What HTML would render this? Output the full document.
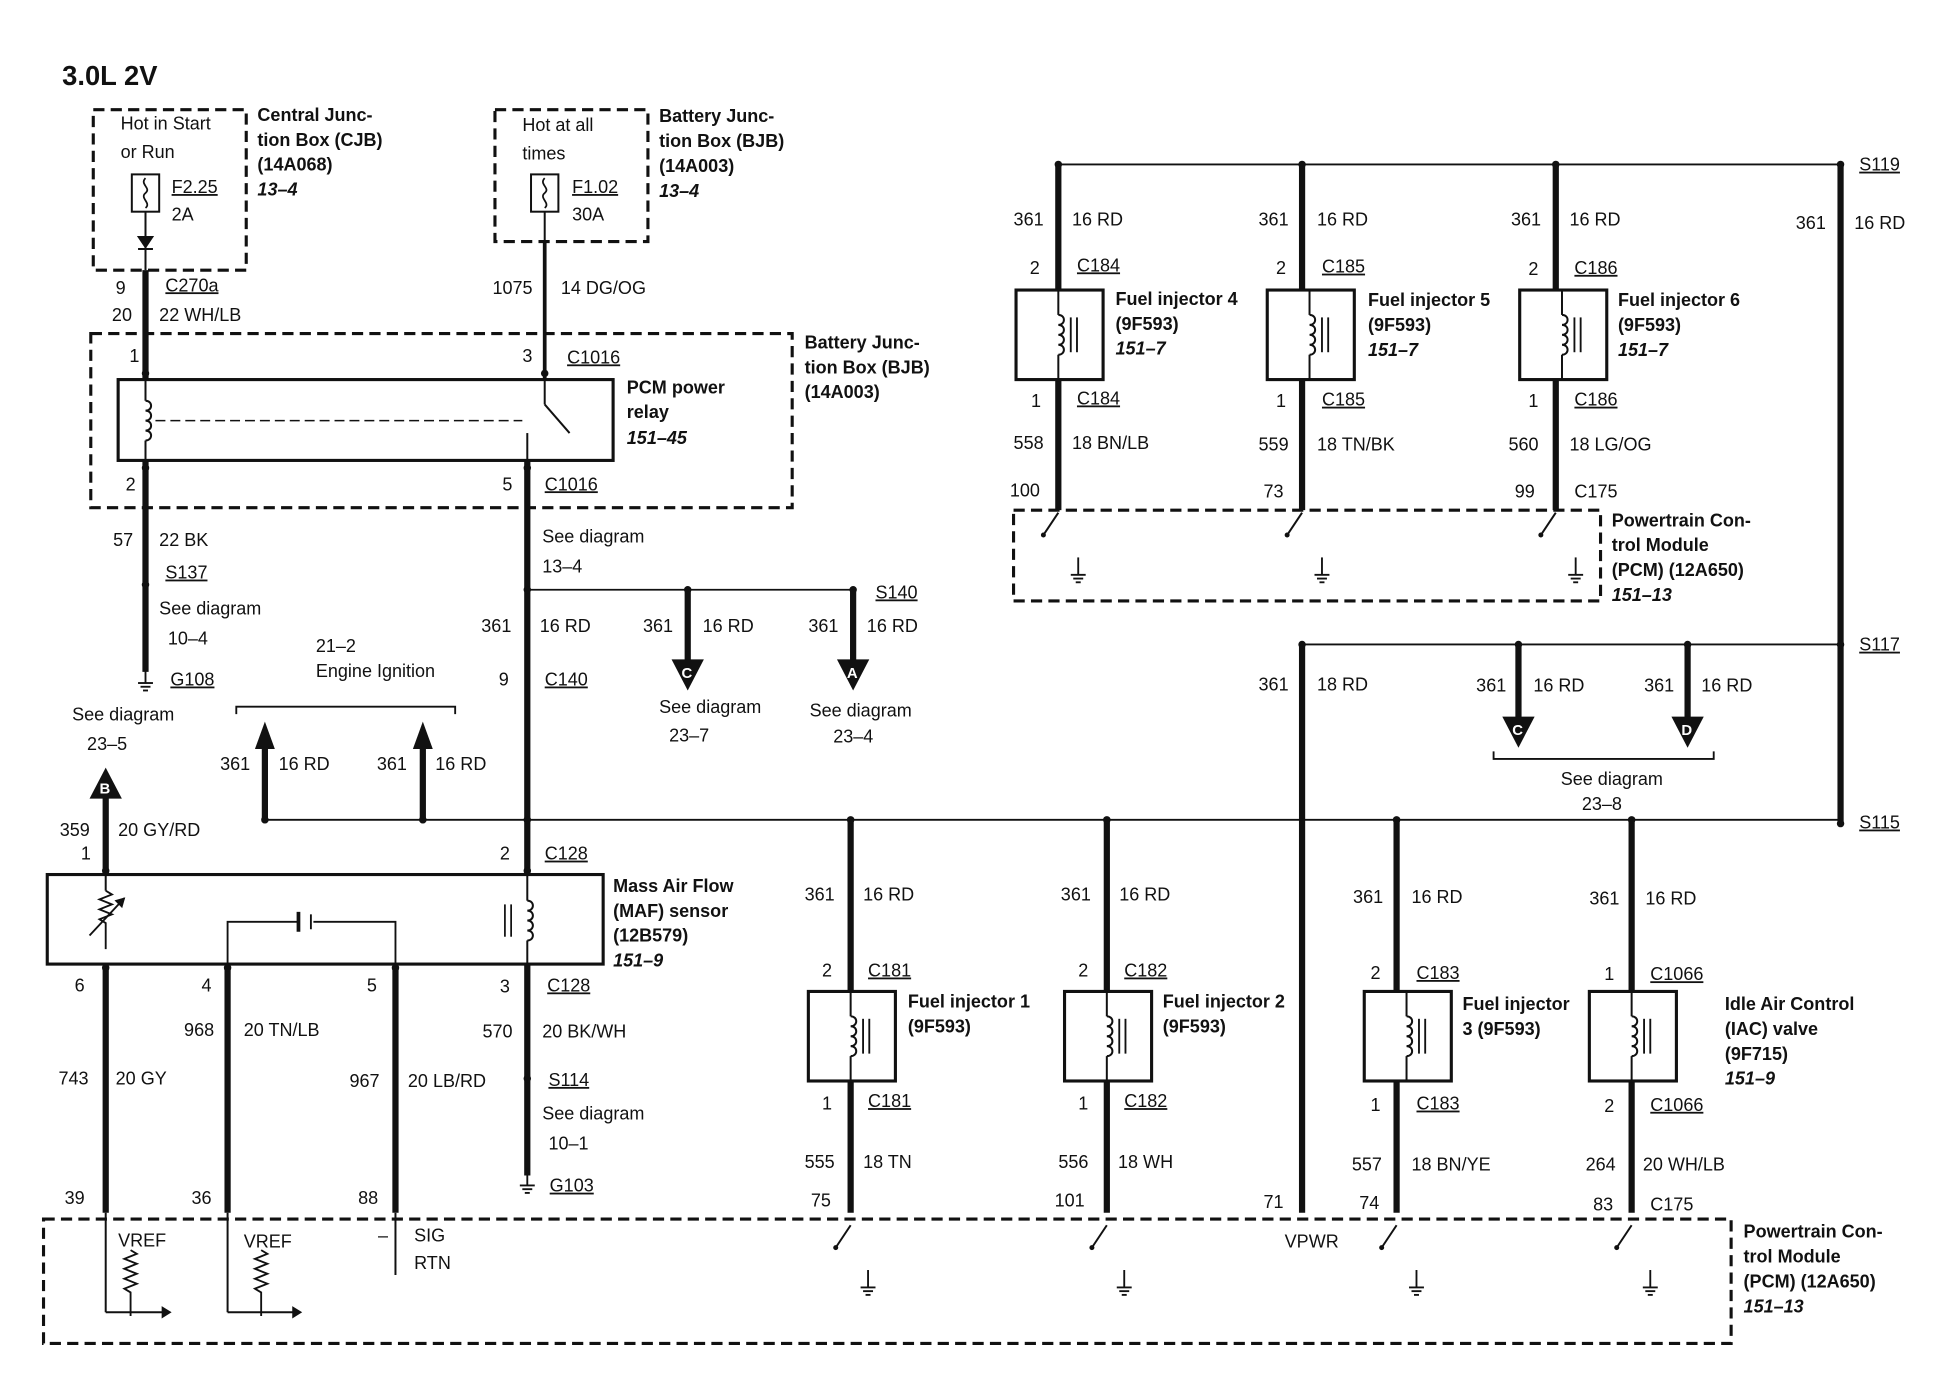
<!DOCTYPE html>
<html><head><meta charset="utf-8"><style>
html,body{margin:0;padding:0;background:#fff;}
svg text{font-family:"Liberation Sans",Arial,sans-serif;font-size:14.5px;fill:#111;}
.b{font-weight:bold;}
.i{font-weight:bold;font-style:italic;}
.h{font-weight:bold;font-size:22px;}
.u{text-decoration:underline;}
</style></head><body>
<svg width="1950" height="1376" viewBox="0 0 1568 1106" xmlns="http://www.w3.org/2000/svg">
<defs>
<g id="coil"><path d="M0,-16 c6,0 6,8 0,8 c6,0 6,8 0,8 c6,0 6,8 0,8 c6,0 6,8 0,8" fill="none" stroke="#111" stroke-width="1.6"/></g>
<g id="gnd"><line x1="0" y1="-14" x2="0" y2="0" stroke="#111" stroke-width="1.5"/><line x1="-6" y1="0" x2="6" y2="0" stroke="#111" stroke-width="1.5"/><line x1="-4" y1="3" x2="4" y2="3" stroke="#111" stroke-width="1.5"/><line x1="-2" y1="6" x2="2" y2="6" stroke="#111" stroke-width="1.5"/></g>
<g id="sw"><line x1="0" y1="0" x2="-12" y2="18" stroke="#111" stroke-width="1.6"/><circle cx="-12" cy="18" r="2" fill="#111"/></g>
<g id="inj"><rect x="-34" y="0" width="70" height="72" fill="none" stroke="#111" stroke-width="2.5"/><line x1="0" y1="0" x2="0" y2="20" stroke="#111" stroke-width="1.6"/><use href="#coil" x="0" y="36"/><line x1="0" y1="52" x2="0" y2="72" stroke="#111" stroke-width="1.6"/><line x1="10" y1="22" x2="10" y2="50" stroke="#111" stroke-width="1.5"/><line x1="15" y1="22" x2="15" y2="50" stroke="#111" stroke-width="1.5"/></g>
</defs>
<g stroke="#111" fill="none">
<g stroke-width="2.5" stroke-dasharray="9 5">
<rect x="75" y="88" width="123" height="129"/>
<rect x="398" y="88" width="123" height="106"/>
<rect x="73" y="268" width="564" height="140"/>
<rect x="815" y="410" width="472" height="73"/>
<rect x="35" y="980" width="1357" height="100"/>
</g>
<g stroke-width="5">
<line x1="117" y1="217" x2="117" y2="305"/>
<line x1="117" y1="370" x2="117" y2="540"/>
<line x1="424" y1="370" x2="424" y2="703"/>
<line x1="424" y1="775" x2="424" y2="945"/>
<line x1="85" y1="640" x2="85" y2="703"/>
<line x1="85" y1="775" x2="85" y2="975"/>
<line x1="183" y1="775" x2="183" y2="975"/>
<line x1="318" y1="775" x2="318" y2="975"/>
<line x1="684" y1="659" x2="684" y2="797"/><line x1="684" y1="869" x2="684" y2="975"/>
<line x1="890" y1="659" x2="890" y2="797"/><line x1="890" y1="869" x2="890" y2="975"/>
<line x1="1123" y1="659" x2="1123" y2="797"/><line x1="1123" y1="869" x2="1123" y2="975"/>
<line x1="1312" y1="659" x2="1312" y2="797"/><line x1="1312" y1="869" x2="1312" y2="975"/>
<line x1="1047" y1="518" x2="1047" y2="975"/>
<line x1="851" y1="132" x2="851" y2="233"/><line x1="851" y1="304" x2="851" y2="410"/>
<line x1="1047" y1="132" x2="1047" y2="233"/><line x1="1047" y1="304" x2="1047" y2="410"/>
<line x1="1251" y1="132" x2="1251" y2="233"/><line x1="1251" y1="304" x2="1251" y2="410"/>
<line x1="1480" y1="132" x2="1480" y2="662"/>
<line x1="553" y1="474" x2="553" y2="535"/>
<line x1="686" y1="474" x2="686" y2="535"/>
<line x1="1221" y1="518" x2="1221" y2="578"/>
<line x1="1357" y1="518" x2="1357" y2="578"/>
<line x1="213" y1="659" x2="213" y2="600"/>
<line x1="340" y1="659" x2="340" y2="600"/>
<line x1="438" y1="194" x2="438" y2="305" stroke-width="3"/>
</g>
<g stroke-width="1.5">
<line x1="424" y1="474" x2="686" y2="474"/>
<line x1="213" y1="659" x2="1480" y2="659"/>
<line x1="1047" y1="518" x2="1480" y2="518"/>
<line x1="851" y1="132" x2="1480" y2="132"/>
<polyline points="190,574 190,568 366,568 366,574"/>
<polyline points="1201,604 1201,610 1378,610 1378,604"/>
</g>
<rect x="95" y="305" width="398" height="65" stroke-width="2.5"/>
<line x1="117" y1="305" x2="117" y2="322" stroke-width="1.6"/><use href="#coil" x="117" y="338"/><line x1="117" y1="354" x2="117" y2="370" stroke-width="1.6"/>
<line x1="125" y1="338" x2="420" y2="338" stroke-width="1.3" stroke-dasharray="8 4"/>
<line x1="438" y1="305" x2="438" y2="325" stroke-width="1.6"/><line x1="438" y1="325" x2="458" y2="348" stroke-width="1.6"/>
<line x1="424" y1="348" x2="424" y2="370" stroke-width="1.6"/>
<rect x="106" y="140" width="22" height="30" stroke-width="1.6"/><path d="M117,143 c-5,5 5,8 0,12 c-5,4 5,8 0,12" stroke-width="1.4"/>
<line x1="117" y1="170" x2="117" y2="217" stroke-width="1.6"/>
<polygon points="111,190 123,190 117,199" fill="#111"/><line x1="111" y1="200" x2="123" y2="200" stroke-width="1.6"/>
<rect x="427" y="140" width="22" height="30" stroke-width="1.6"/><path d="M438,143 c-5,5 5,8 0,12 c-5,4 5,8 0,12" stroke-width="1.4"/>
<line x1="438" y1="170" x2="438" y2="194" stroke-width="1.6"/>
<rect x="38" y="703" width="447" height="72" stroke-width="2.5"/>
<line x1="85" y1="703" x2="85" y2="716" stroke-width="1.6"/>
<path d="M85,716 l5,3 l-10,4 l10,4 l-10,4 l10,4 l-10,4 l5,3 v21" stroke-width="1.5"/>
<line x1="72" y1="752" x2="100" y2="722" stroke-width="1.5"/><polygon points="100,722 93,724 98,729" fill="#111"/>
<polyline points="183,775 183,741 240,741" stroke-width="1.5"/><polyline points="252,741 318,741 318,775" stroke-width="1.5"/>
<line x1="240" y1="733" x2="240" y2="749" stroke-width="3"/><line x1="250" y1="735" x2="250" y2="747" stroke-width="1.5"/>
<line x1="424" y1="703" x2="424" y2="724" stroke-width="1.6"/><use href="#coil" x="424" y="740"/><line x1="424" y1="756" x2="424" y2="775" stroke-width="1.6"/>
<line x1="406" y1="727" x2="406" y2="753" stroke-width="1.4"/><line x1="411" y1="727" x2="411" y2="753" stroke-width="1.4"/>
<line x1="85" y1="975" x2="85" y2="1055" stroke-width="1.6"/><line x1="85" y1="1055" x2="132" y2="1055" stroke-width="1.6"/>
<path d="M105,1005 l5,3 l-10,4 l10,4 l-10,4 l10,4 l-10,4 l10,4 l-10,4 l5,3 v19" stroke-width="1.5"/>
<line x1="183" y1="975" x2="183" y2="1055" stroke-width="1.6"/><line x1="183" y1="1055" x2="237" y2="1055" stroke-width="1.6"/>
<path d="M210,1005 l5,3 l-10,4 l10,4 l-10,4 l10,4 l-10,4 l10,4 l-10,4 l5,3 v19" stroke-width="1.5"/>
<line x1="318" y1="975" x2="318" y2="1025" stroke-width="1.6"/>
</g>
<g fill="#111">
<polygon points="130,1050 138,1055 130,1060"/><polygon points="235,1050 243,1055 235,1060"/>
<polygon points="540,530 566,530 553,555"/><polygon points="673,530 699,530 686,555"/>
<polygon points="1208,576 1234,576 1221,601"/><polygon points="1344,576 1370,576 1357,601"/>
<polygon points="205,602 221,602 213,580"/><polygon points="332,602 348,602 340,580"/>
<polygon points="72,642 98,642 85,617"/>
<circle cx="117" cy="300" r="3"/><circle cx="438" cy="300" r="3"/><circle cx="117" cy="376" r="3"/><circle cx="424" cy="376" r="3"/>
<circle cx="117" cy="470" r="3"/><circle cx="424" cy="474" r="3"/><circle cx="553" cy="474" r="3"/><circle cx="686" cy="474" r="3"/>
<circle cx="213" cy="659" r="3"/><circle cx="340" cy="659" r="3"/><circle cx="424" cy="659" r="3"/><circle cx="684" cy="659" r="3"/><circle cx="890" cy="659" r="3"/><circle cx="1123" cy="659" r="3"/><circle cx="1312" cy="659" r="3"/><circle cx="1480" cy="662" r="3"/>
<circle cx="1047" cy="518" r="3"/><circle cx="1221" cy="518" r="3"/><circle cx="1357" cy="518" r="3"/><circle cx="1480" cy="518" r="3"/>
<circle cx="851" cy="132" r="3"/><circle cx="1047" cy="132" r="3"/><circle cx="1251" cy="132" r="3"/><circle cx="1480" cy="132" r="3"/>
<circle cx="424" cy="867" r="3"/><circle cx="85" cy="778" r="3"/><circle cx="183" cy="778" r="3"/><circle cx="318" cy="778" r="3"/>
<circle cx="85" cy="700" r="3"/><circle cx="424" cy="700" r="3"/>
</g>
<text x="548" y="545" style="fill:#fff;font-weight:bold;font-size:12px">C</text>
<text x="681" y="545" style="fill:#fff;font-weight:bold;font-size:12px">A</text>
<text x="1216" y="591" style="fill:#fff;font-weight:bold;font-size:12px">C</text>
<text x="1352" y="591" style="fill:#fff;font-weight:bold;font-size:12px">D</text>
<text x="80" y="638" style="fill:#fff;font-weight:bold;font-size:12px">B</text>
<use href="#inj" x="684" y="797"/><use href="#inj" x="890" y="797"/><use href="#inj" x="1131" y="797"/><use href="#inj" x="1312" y="797"/>
<use href="#inj" x="851" y="233"/><use href="#inj" x="1053" y="233"/><use href="#inj" x="1256" y="233"/>
<use href="#sw" x="684" y="985"/><use href="#gnd" x="698" y="1035"/>
<use href="#sw" x="890" y="985"/><use href="#gnd" x="904" y="1035"/>
<use href="#sw" x="1123" y="985"/><use href="#gnd" x="1139" y="1035"/>
<use href="#sw" x="1312" y="985"/><use href="#gnd" x="1327" y="1035"/>
<use href="#sw" x="851" y="412"/><use href="#gnd" x="867" y="462"/>
<use href="#sw" x="1047" y="412"/><use href="#gnd" x="1063" y="462"/>
<use href="#sw" x="1251" y="412"/><use href="#gnd" x="1267" y="462"/>
<use href="#gnd" x="117" y="549"/><use href="#gnd" x="424" y="953"/>

<text x="50" y="68" class="h">3.0L 2V</text>
<text x="97" y="104">Hot in Start</text><text x="97" y="127">or Run</text>
<text x="138" y="155" class="u">F2.25</text><text x="138" y="177">2A</text>
<text x="207" y="97" class="b">Central Junc-</text><text x="207" y="117" class="b">tion Box (CJB)</text><text x="207" y="137" class="b">(14A068)</text><text x="207" y="157" class="i">13–4</text>
<text x="420" y="105">Hot at all</text><text x="420" y="128">times</text>
<text x="460" y="155" class="u">F1.02</text><text x="460" y="177">30A</text>
<text x="530" y="98" class="b">Battery Junc-</text><text x="530" y="118" class="b">tion Box (BJB)</text><text x="530" y="138" class="b">(14A003)</text><text x="530" y="158" class="i">13–4</text>
<text x="93" y="236">9</text><text x="133" y="234" class="u">C270a</text><text x="90" y="258">20</text><text x="128" y="258">22 WH/LB</text>
<text x="396" y="236">1075</text><text x="451" y="236">14 DG/OG</text>
<text x="104" y="291">1</text><text x="420" y="291">3</text><text x="456" y="292" class="u">C1016</text>
<text x="504" y="316" class="b">PCM power</text><text x="504" y="336" class="b">relay</text><text x="504" y="357" class="i">151–45</text>
<text x="647" y="280" class="b">Battery Junc-</text><text x="647" y="300" class="b">tion Box (BJB)</text><text x="647" y="320" class="b">(14A003)</text>
<text x="101" y="394">2</text><text x="404" y="394">5</text><text x="438" y="394" class="u">C1016</text>
<text x="91" y="439">57</text><text x="128" y="439">22 BK</text><text x="133" y="465" class="u">S137</text>
<text x="128" y="494">See diagram</text><text x="135" y="518">10–4</text><text x="137" y="551" class="u">G108</text>
<text x="436" y="436">See diagram</text><text x="436" y="460">13–4</text>
<text x="704" y="481" class="u">S140</text>
<text x="387" y="508">361</text><text x="434" y="508">16 RD</text>
<text x="517" y="508">361</text><text x="565" y="508">16 RD</text><text x="650" y="508">361</text><text x="697" y="508">16 RD</text>
<text x="401" y="551">9</text><text x="438" y="551" class="u">C140</text>
<text x="530" y="573">See diagram</text><text x="538" y="596">23–7</text><text x="651" y="576">See diagram</text><text x="670" y="597">23–4</text>
<text x="254" y="524">21–2</text><text x="254" y="544">Engine Ignition</text>
<text x="58" y="579">See diagram</text><text x="70" y="603">23–5</text>
<text x="177" y="619">361</text><text x="224" y="619">16 RD</text><text x="303" y="619">361</text><text x="350" y="619">16 RD</text>
<text x="48" y="672">359</text><text x="95" y="672">20 GY/RD</text><text x="65" y="691">1</text>
<text x="402" y="691">2</text><text x="438" y="691" class="u">C128</text>
<text x="493" y="717" class="b">Mass Air Flow</text><text x="493" y="737" class="b">(MAF) sensor</text><text x="493" y="757" class="b">(12B579)</text><text x="493" y="777" class="i">151–9</text>
<text x="60" y="797">6</text><text x="162" y="797">4</text><text x="295" y="797">5</text><text x="402" y="798">3</text><text x="440" y="797" class="u">C128</text>
<text x="148" y="833">968</text><text x="196" y="833">20 TN/LB</text><text x="388" y="834">570</text><text x="436" y="834">20 BK/WH</text>
<text x="47" y="872">743</text><text x="93" y="872">20 GY</text><text x="281" y="874">967</text><text x="328" y="874">20 LB/RD</text>
<text x="441" y="873" class="u">S114</text><text x="436" y="900">See diagram</text><text x="441" y="924">10–1</text><text x="442" y="958" class="u">G103</text>
<text x="52" y="968">39</text><text x="154" y="968">36</text><text x="288" y="968">88</text>
<text x="95" y="1002">VREF</text><text x="196" y="1003">VREF</text><text x="304" y="998">–</text><text x="333" y="998">SIG</text><text x="333" y="1020">RTN</text>
<text x="1033" y="1003">VPWR</text>
<text x="1402" y="995" class="b">Powertrain Con-</text><text x="1402" y="1015" class="b">trol Module</text><text x="1402" y="1035" class="b">(PCM) (12A650)</text><text x="1402" y="1055" class="i">151–13</text>
<text x="647" y="724">361</text><text x="694" y="724">16 RD</text><text x="853" y="724">361</text><text x="900" y="724">16 RD</text>
<text x="1088" y="726">361</text><text x="1135" y="726">16 RD</text><text x="1278" y="727">361</text><text x="1323" y="727">16 RD</text>
<text x="661" y="785">2</text><text x="698" y="785" class="u">C181</text><text x="867" y="785">2</text><text x="904" y="785" class="u">C182</text>
<text x="1102" y="787">2</text><text x="1139" y="787" class="u">C183</text><text x="1290" y="788">1</text><text x="1327" y="788" class="u">C1066</text>
<text x="730" y="810" class="b">Fuel injector 1</text><text x="730" y="830" class="b">(9F593)</text>
<text x="935" y="810" class="b">Fuel injector 2</text><text x="935" y="830" class="b">(9F593)</text>
<text x="1176" y="812" class="b">Fuel injector</text><text x="1176" y="832" class="b">3 (9F593)</text>
<text x="1387" y="812" class="b">Idle Air Control</text><text x="1387" y="832" class="b">(IAC) valve</text><text x="1387" y="852" class="b">(9F715)</text><text x="1387" y="872" class="i">151–9</text>
<text x="661" y="892">1</text><text x="698" y="890" class="u">C181</text><text x="867" y="892">1</text><text x="904" y="890" class="u">C182</text>
<text x="1102" y="893">1</text><text x="1139" y="892" class="u">C183</text><text x="1290" y="894">2</text><text x="1327" y="893" class="u">C1066</text>
<text x="647" y="939">555</text><text x="694" y="939">18 TN</text><text x="851" y="939">556</text><text x="899" y="939">18 WH</text>
<text x="1087" y="941">557</text><text x="1135" y="941">18 BN/YE</text><text x="1275" y="941">264</text><text x="1321" y="941">20 WH/LB</text>
<text x="652" y="970">75</text><text x="848" y="970">101</text><text x="1016" y="971">71</text><text x="1093" y="972">74</text><text x="1281" y="973">83</text><text x="1327" y="973">C175</text>
<text x="1012" y="555">361</text><text x="1059" y="555">18 RD</text>
<text x="1187" y="556">361</text><text x="1233" y="556">16 RD</text><text x="1322" y="556">361</text><text x="1368" y="556">16 RD</text>
<text x="1255" y="631">See diagram</text><text x="1272" y="651">23–8</text>
<text x="1495" y="137" class="u">S119</text><text x="1495" y="523" class="u">S117</text><text x="1495" y="666" class="u">S115</text>
<text x="1444" y="184">361</text><text x="1491" y="184">16 RD</text>
<text x="815" y="181">361</text><text x="862" y="181">16 RD</text><text x="1012" y="181">361</text><text x="1059" y="181">16 RD</text><text x="1215" y="181">361</text><text x="1262" y="181">16 RD</text>
<text x="828" y="220">2</text><text x="866" y="218" class="u">C184</text><text x="1026" y="220">2</text><text x="1063" y="219" class="u">C185</text><text x="1229" y="221">2</text><text x="1266" y="220" class="u">C186</text>
<text x="897" y="245" class="b">Fuel injector 4</text><text x="897" y="265" class="b">(9F593)</text><text x="897" y="285" class="i">151–7</text>
<text x="1100" y="246" class="b">Fuel injector 5</text><text x="1100" y="266" class="b">(9F593)</text><text x="1100" y="286" class="i">151–7</text>
<text x="1301" y="246" class="b">Fuel injector 6</text><text x="1301" y="266" class="b">(9F593)</text><text x="1301" y="286" class="i">151–7</text>
<text x="829" y="327">1</text><text x="866" y="325" class="u">C184</text><text x="1026" y="327">1</text><text x="1063" y="326" class="u">C185</text><text x="1229" y="327">1</text><text x="1266" y="326" class="u">C186</text>
<text x="815" y="361">558</text><text x="862" y="361">18 BN/LB</text><text x="1012" y="362">559</text><text x="1059" y="362">18 TN/BK</text><text x="1213" y="362">560</text><text x="1262" y="362">18 LG/OG</text>
<text x="812" y="399">100</text><text x="1016" y="400">73</text><text x="1218" y="400">99</text><text x="1266" y="400">C175</text>
<text x="1296" y="423" class="b">Powertrain Con-</text><text x="1296" y="443" class="b">trol Module</text><text x="1296" y="463" class="b">(PCM) (12A650)</text><text x="1296" y="483" class="i">151–13</text>
</svg>
</body></html>
